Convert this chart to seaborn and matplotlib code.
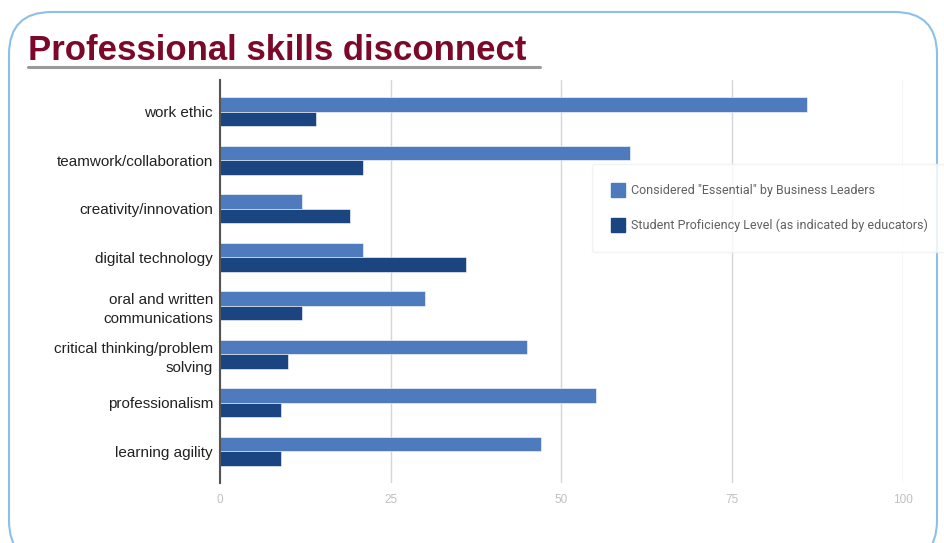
import matplotlib
matplotlib.use("Agg")
import matplotlib.pyplot as plt
from matplotlib.patches import FancyBboxPatch
from matplotlib.lines import Line2D
import seaborn as sns
import pandas as pd

# values
skills = ["work ethic", "teamwork/collaboration", "creativity/innovation",
          "digital technology", "oral and written\ncommunications",
          "critical thinking/problem\nsolving", "professionalism", "learning agility"]
essential = [86, 60, 12, 21, 30, 45, 55, 47]
proficiency = [14, 21, 19, 36, 12, 10, 9, 9]
series = ['Considered "Essential" by Business Leaders',
          "Student Proficiency Level (as indicated by educators)"]
colors = ["#4E7BBE", "#1B4580"]

df = pd.DataFrame({
    "skill": skills * 2,
    "value": essential + proficiency,
    "series": [series[0]] * len(skills) + [series[1]] * len(skills),
})

sns.set_style("white")
plt.rcParams["font.family"] = ["Liberation Sans", "DejaVu Sans"]

fig = plt.figure(figsize=(9.45, 5.43), dpi=100)
ax = fig.add_axes([220 / 945, 1 - 483 / 543, (903 - 220) / 945, (483 - 80) / 543])

sns.barplot(data=df, y="skill", x="value", hue="series", palette=colors,
            orient="h", width=0.6, ax=ax, legend=False, saturation=1,
            edgecolor="white", linewidth=0.4)

ax.set_xlim(0, 100)
ax.set_ylim(7.65, -0.65)
ax.set_xticks([0, 25, 50, 75, 100])
ax.grid(axis="x", color="#d6d6d6", linewidth=1)
ax.set_axisbelow(True)
ax.set_xlabel("")
ax.set_ylabel("")
for s in ["top", "right", "bottom"]:
    ax.spines[s].set_visible(False)
ax.spines["left"].set_color("#555555")
ax.spines["left"].set_linewidth(1.5)
ax.tick_params(axis="x", colors="#c0c0c0", labelsize=8.5, length=0, pad=8)
ax.tick_params(axis="y", length=0, labelsize=11, labelcolor="#222222", pad=5)
for lbl in ax.get_yticklabels():
    lbl.set_linespacing(1.45)

# legend box
handles = [Line2D([0], [0], marker="s", linestyle="", markersize=10,
                  markerfacecolor=c, markeredgecolor=c) for c in colors]
leg = fig.legend(handles, series, loc="upper left",
                 bbox_to_anchor=(592 / 945, 1 - 164 / 543),
                 frameon=True, labelspacing=1.75, handlelength=1.0,
                 handletextpad=0.5, borderpad=1.6, borderaxespad=0,
                 fancybox=True, prop={"family": "Roboto", "size": 9})
leg.get_frame().set_edgecolor("#f0f0f0")
leg.get_frame().set_facecolor("white")
for t in leg.get_texts():
    t.set_color("#606060")

# title with underline
fig.text(28 / 945, 1 - 51 / 543, "Professional skills disconnect",
         fontsize=25, fontweight="bold", color="#7B0A2A", va="center", ha="left")
fig.add_artist(Line2D([28 / 945, 540 / 945], [1 - 67 / 543, 1 - 67 / 543],
                      color="#9a9a9a", linewidth=2.2, transform=fig.transFigure))

# rounded border round the slide
border = FancyBboxPatch((9 / 945, -20 / 543), 928 / 945, (531 + 20) / 543,
                        boxstyle="round,pad=0,rounding_size=0.045",
                        transform=fig.transFigure, fill=False,
                        edgecolor="#8CC0EA", linewidth=1.5,
                        mutation_aspect=945 / 543)
fig.add_artist(border)

fig.savefig("out.png", dpi=100)
